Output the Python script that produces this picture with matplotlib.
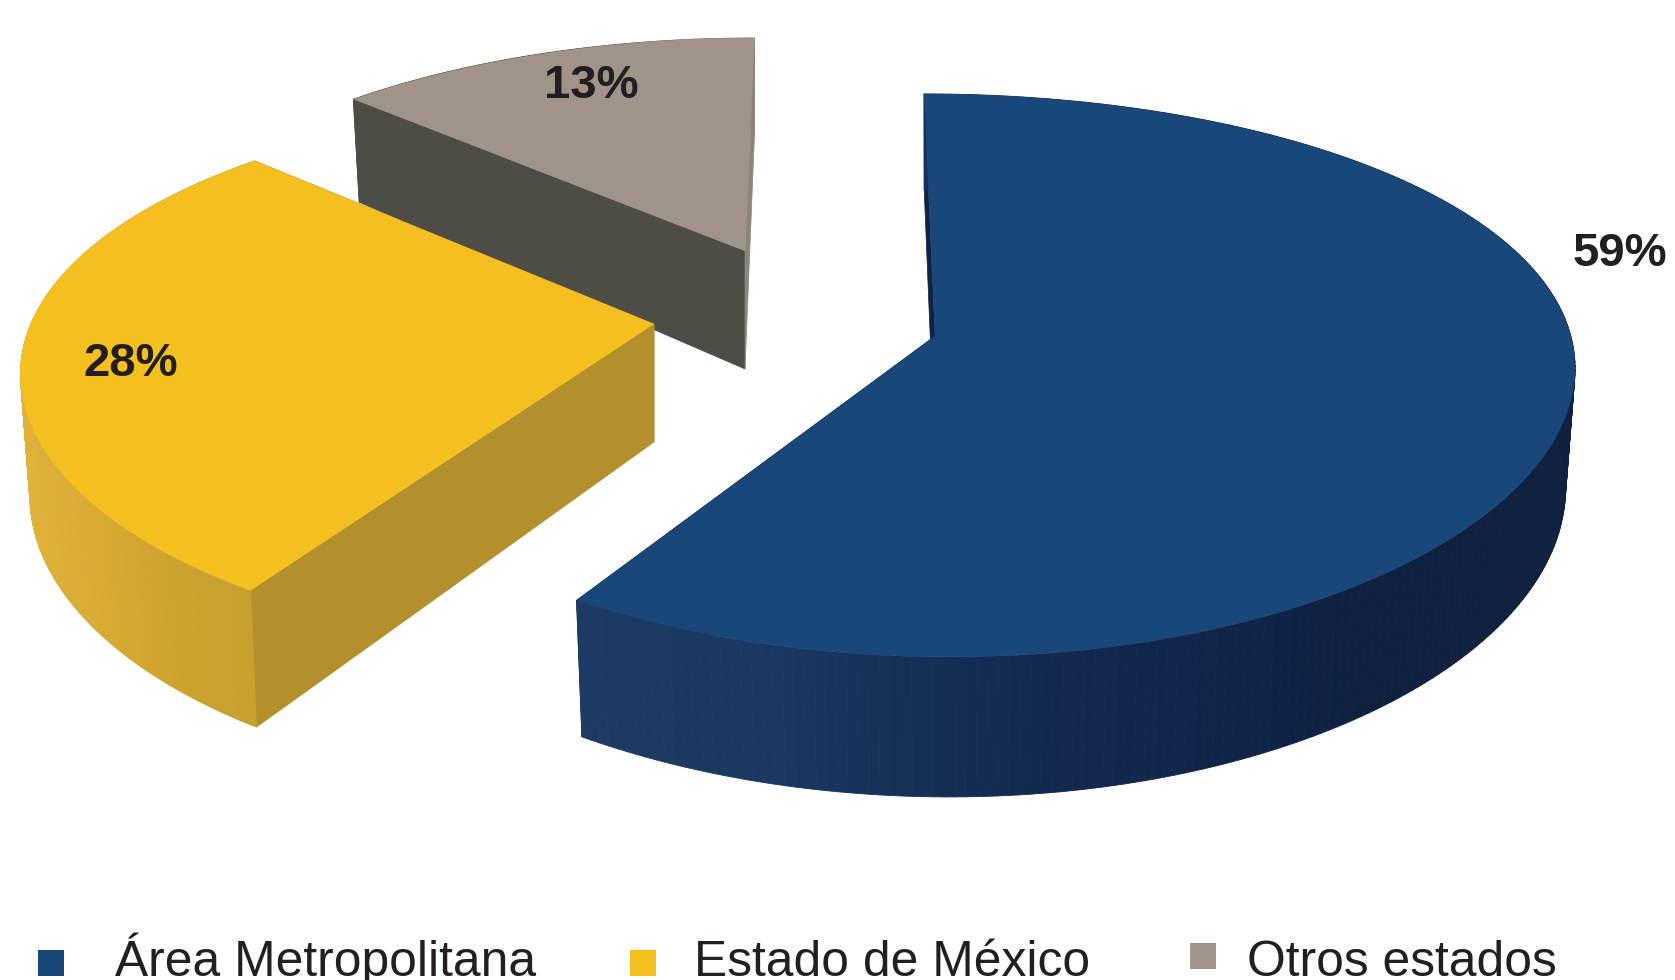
### pastel 3D explotado
import numpy as np
import matplotlib
matplotlib.use('Agg')
import matplotlib.pyplot as plt
from matplotlib.collections import PolyCollection
from matplotlib.colors import LinearSegmentedColormap
from matplotlib.patches import Rectangle

## datos
categorias = ['Área Metropolitana', 'Estado de México', 'Otros estados']
valores = [59, 28, 13]
etiquetas = ['59%', '28%', '13%']

## estilo / posiciones
RX = 634
RY = 276
colores_top = ['#19477a', '#f6bf20', '#a09389']
colores_radial = ['#0e2243', '#b3902c', '#4e4d45']
colores_fin = ['#0e2243', '#b3902c', '#8d8579']
paredes = [['#1d3b65', '#1b3860', '#142c53', '#12264b', '#0f2040', '#0f2040'],
           ['#dfb23a', '#d8aa32', '#cca22e', '#c6a02e'],
           ['#4e4d45', '#4e4d45', '#8d8579']]
centros = [(935, 336), (654, 324), (745, 251)]
escala = [(1.003, 1.0), (0.983, 0.97), (0.945, 0.88)]
skew = [-12.5, 25, 11]
kx = [0.095, 0.14, 0.14]     # perspectiva en x
ky = [0.14, 0.18, 0.14]      # perspectiva en y
pos_etq = [(1620, 254), (131, 364), (591, 86)]
leg_cuadro = [(38, 950), (630, 950), (1190, 943)]
leg_txt = [(115, 976), (694, 976), (1247, 976)]
NEGRO = '#231f20'


def proyectar(t, i, abajo=False):
    u = np.sin(t)
    v = np.cos(t)
    x = (RX*escala[i][0]*u)/(1+kx[i]*v) + skew[i]*v/(1+ky[i]*v)
    y = -RY*escala[i][1]*v/(1+ky[i]*v)
    prof = 0
    if abajo:
        x = x*0.985
        prof = 118-22*v
    return centros[i][0]+x, centros[i][1]+y+prof


fig = plt.figure(figsize=(16.75, 9.8), dpi=100)
ax = fig.add_axes([0, 0, 1, 1])
ax.set_xlim(0, 1675)
ax.set_ylim(980, 0)
ax.axis('off')

cortes = np.cumsum([0]+valores)/sum(valores)*2*np.pi

# de atras hacia adelante
for i in [2, 1, 0]:
    c = centros[i]
    t = np.linspace(cortes[i], cortes[i+1], 240)
    x, y = proyectar(t, i)
    xb, yb = proyectar(t, i, True)
    cb = (c[0], c[1]+118)
    z = i*-10

    # paredes radiales
    ax.fill([c[0], x[0], xb[0], cb[0]], [c[1], y[0], yb[0], cb[1]],
            color=colores_radial[i], lw=0.5, zorder=z+1)
    ax.fill([c[0], x[-1], xb[-1], cb[0]], [c[1], y[-1], yb[-1], cb[1]],
            color=colores_fin[i], lw=0.5, zorder=z+1)

    # pared exterior con degradado segun x
    cmap = LinearSegmentedColormap.from_list('p', paredes[i])
    quads = [[(x[j], y[j]), (x[j+1], y[j+1]), (xb[j+1], yb[j+1]), (xb[j], yb[j])]
             for j in range(len(t)-1)]
    pos = (x[:-1]-x.min())/(x.max()-x.min())
    col = cmap(pos)
    ax.add_collection(PolyCollection(quads, facecolors=col, edgecolors=col, linewidths=0.6, zorder=z+2))

    # tapa
    ax.fill(np.r_[c[0], x], np.r_[c[1], y], color=colores_top[i], lw=0, zorder=z+4)

    ax.text(pos_etq[i][0], pos_etq[i][1], etiquetas[i], ha='center', va='center',
            family='Liberation Sans', weight='bold', fontsize=34, color=NEGRO, zorder=20)

    # leyenda
    ax.add_patch(Rectangle(leg_cuadro[i], 26, 26, color=colores_top[i], lw=0))
    ax.text(leg_txt[i][0], leg_txt[i][1], categorias[i], ha='left', va='baseline',
            family='Liberation Sans', fontsize=35.8, color=NEGRO, clip_on=False)

fig.savefig('out.png', dpi=100)
